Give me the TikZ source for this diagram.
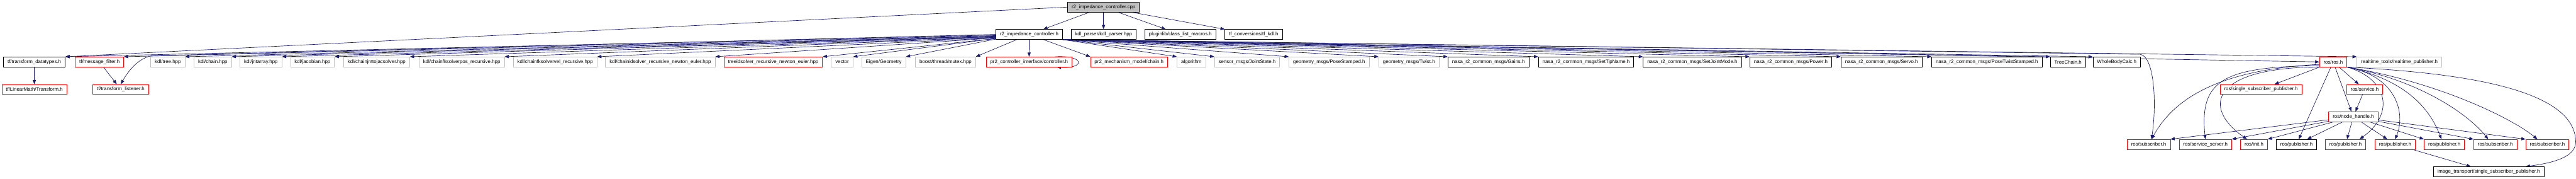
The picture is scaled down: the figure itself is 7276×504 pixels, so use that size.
\documentclass[tikz,border=0pt]{standalone}
\usepackage{fontspec}
\setmainfont{Liberation Sans}
\usetikzlibrary{arrows.meta,backgrounds}
\definecolor{edgeblue}{RGB}{25,25,112}
\definecolor{boxred}{RGB}{255,0,0}
\definecolor{boxgray}{RGB}{191,191,191}
\begin{document}
\begin{tikzpicture}[x=1pt,y=-1pt,
  box/.style={rectangle, line width=1.2pt, minimum height=28pt, inner xsep=11.5pt, inner ysep=0pt, fill=white, font=\fontsize{14}{16}\selectfont, text=black},
  blackbox/.style={box, draw=black},
  redbox/.style={box, draw=boxred},
  graybox/.style={box, draw=boxgray},
  rootbox/.style={box, draw=black, fill=boxgray},
  edge/.style={draw=edgeblue, line width=1.2pt, -{Triangle[length=12pt,width=9pt]}}
]
\useasboundingbox (0,0) rectangle (7276,504);

% row 0 and 1
\node[rootbox]  (cpp)       at (3117,20)  {r2\_impedance\_controller.cpp};
\node[blackbox] (r2h)       at (2907,97)  {r2\_impedance\_controller.h};
\node[blackbox] (kdlparser) at (3117,97)  {kdl\_parser/kdl\_parser.hpp};
\node[blackbox] (pluginlib) at (3334,97)  {pluginlib/class\_list\_macros.h};
\node[blackbox] (tfkdl)     at (3541,97)  {tf\_conversions/tf\_kdl.h};

% row 2
\node[blackbox] (tfdt)       at (97,174.5)   {tf/transform\_datatypes.h};
\node[redbox]   (msgfilter)  at (281,174.5)  {tf/message\_filter.h};
\node[graybox]  (kdltree)    at (474,174.5)  {kdl/tree.hpp};
\node[graybox]  (kdlchain)   at (601,174.5)  {kdl/chain.hpp};
\node[graybox]  (jntarray)   at (737,174.5)  {kdl/jntarray.hpp};
\node[graybox]  (jacobian)   at (882.5,174.5){kdl/jacobian.hpp};
\node[graybox]  (jnttojac)   at (1063.7,174.5){kdl/chainjnttojacsolver.hpp};
\node[graybox]  (fkpos)      at (1304,174.5) {kdl/chainfksolverpos\_recursive.hpp};
\node[graybox]  (fkvel)      at (1568,174.5) {kdl/chainfksolvervel\_recursive.hpp};
\node[graybox]  (idsolver)   at (1865,174.5) {kdl/chainidsolver\_recursive\_newton\_euler.hpp};
\node[redbox]   (treeid)     at (2184,174.5) {treeidsolver\_recursive\_newton\_euler.hpp};
\node[graybox]  (vector)     at (2378.5,174.5){vector};
\node[graybox]  (eigen)      at (2496,174.5) {Eigen/Geometry};
\node[graybox]  (mutex)      at (2670.6,174.5){boost/thread/mutex.hpp};
\node[redbox]   (controller) at (2906.7,174.5){pr2\_controller\_interface/controller.h};
\node[redbox]   (mchain)     at (3189,174.5) {pr2\_mechanism\_model/chain.h};
\node[graybox]  (algorithm)  at (3365,174.5) {algorithm};
\node[graybox]  (jointstate) at (3522.5,174.5){sensor\_msgs/JointState.h};
\node[graybox]  (posestamped) at (3754,174.5){geometry\_msgs/PoseStamped.h};
\node[graybox]  (twist)      at (3979.5,174.5){geometry\_msgs/Twist.h};
\node[blackbox] (gains)      at (4204,174.5) {nasa\_r2\_common\_msgs/Gains.h};
\node[blackbox] (settip)     at (4480,174.5) {nasa\_r2\_common\_msgs/SetTipName.h};
\node[blackbox] (setjoint)   at (4780,174.5) {nasa\_r2\_common\_msgs/SetJointMode.h};
\node[blackbox] (power)      at (5058,174.5) {nasa\_r2\_common\_msgs/Power.h};
\node[blackbox] (servo)      at (5314.5,174.5){nasa\_r2\_common\_msgs/Servo.h};
\node[blackbox] (ptstamped)  at (5612,174.5) {nasa\_r2\_common\_msgs/PoseTwistStamped.h};
\node[blackbox] (treechain)  at (5841,174.5) {TreeChain.h};
\node[blackbox] (wbc)        at (5978.6,174.5){WholeBodyCalc.h};
\node[redbox]   (rosh)       at (6590,174.5) {ros/ros.h};
\node[graybox]  (rtpub)      at (6777,174.5) {realtime\_tools/realtime\_publisher.h};

% row 3
\node[redbox] (transform) at (97,252)   {tf/LinearMath/Transform.h};
\node[redbox] (listener)  at (341,252)  {tf/transform\_listener.h};
\node[redbox] (sspub)     at (6386,252) {ros/single\_subscriber\_publisher.h};
\node[redbox] (service)   at (6679,252) {ros/service.h};

% row 4
\node[redbox] (nodehandle) at (6647,329) {ros/node\_handle.h};

% row 5
\node[redbox]   (sub1)    at (6069,407)   {ros/subscriber.h};
\node[redbox]   (servsrv) at (6229,407)   {ros/service\_server.h};
\node[redbox]   (init)    at (6366.5,407) {ros/init.h};
\node[blackbox] (pub1)    at (6486.4,407) {ros/publisher.h};
\node[redbox]   (pub2)    at (6625,407)   {ros/publisher.h};
\node[redbox]   (pub3)    at (6765,407)   {ros/publisher.h};
\node[redbox]   (pub4)    at (6904,407)   {ros/publisher.h};
\node[redbox]   (sub2)    at (7048,407)   {ros/subscriber.h};
\node[redbox]   (sub3)    at (7195,407)   {ros/subscriber.h};

% row 6
\node[blackbox] (imgtr) at (7029,484) {image\_transport/single\_subscriber\_publisher.h};

% bend points
\coordinate (lbend) at (430,157);
\coordinate (sbend) at (6045,153);
\coordinate (imgbend) at (7275,400);

\begin{pgfonlayer}{background}
% edges from the cpp file
\draw[edge] (cpp) -- (r2h);
\draw[edge] (cpp) -- (kdlparser);
\draw[edge] (cpp) -- (pluginlib);
\draw[edge] (cpp) -- (tfkdl.north west);
\draw[edge] (cpp.west) -- (tfdt.north east);

% edges from r2_impedance_controller.h
\foreach \t/\a in {tfdt/181,msgfilter/182,kdltree/183,kdlchain/183.5,jntarray/184,jacobian/184.5,jnttojac/185,fkpos/185.5,fkvel/186,idsolver/186.5,treeid/187,vector/187.5,eigen/188}
  \draw[edge] (r2h.\a) -- (\t.north east);
\draw[edge] (r2h) -- (mutex.north east);
\draw[edge] (r2h) -- (controller);
\draw[edge] (r2h) -- (mchain.north west);
\foreach \t in {algorithm,jointstate,posestamped,twist,gains,settip,setjoint,power,servo,ptstamped,treechain,wbc,rtpub}
  \draw[edge] (r2h.south east) -- (\t.north west);
\draw[edge] (r2h.south east) -- (rosh.west);
\draw[edge] (r2h.180) -- (lbend) .. controls (395,162) and (365,195) .. (listener.north);
\draw[edge] (r2h.south east) -- (sbend) .. controls (6085,160) and (6092,290) .. ([xshift=8pt]sub1.north);

% tf cluster
\draw[edge] (tfdt) -- (transform);
\draw[edge] (msgfilter) -- (listener);

% self loop
\draw[edge] ([xshift=-48pt]controller.north east) .. controls (3065,155) and (3065,194) .. ([xshift=-44pt]controller.south east);

% ros/ros.h cluster
\draw[edge] (rosh.190) .. controls (6300,195) and (6150,260) .. ([xshift=8pt]sub1.north);
\draw[edge] (rosh.195) .. controls (6280,188) and (6212,225) .. (servsrv.north);
\draw[edge] (rosh.200) .. controls (6250,190) and (6215,300) .. ([xshift=-20pt]init.north);
\draw[edge] (rosh) -- (sspub);
\draw[edge] (rosh) -- (pub1);
\draw[edge] (rosh) -- (nodehandle);
\draw[edge] (rosh) -- (service);
\draw[edge] (rosh.south east) .. controls (6745,222) and (6765,320) .. ([xshift=-18pt]pub2.north east);
\draw[edge] (rosh.south east) .. controls (6770,215) and (6795,320) .. (pub3.north);
\draw[edge] (rosh.south east) .. controls (6790,225) and (6860,300) .. ([xshift=-8pt]pub4.north);
\draw[edge] (rosh.south east) .. controls (6830,225) and (6970,320) .. ([xshift=-20pt]sub2.north);
\draw[edge] (rosh.south east) .. controls (6880,230) and (7090,330) .. ([xshift=-28pt]sub3.north);
\draw[edge] (rosh.south east) .. controls (6950,205) and (7275,250) .. (imgbend)
            .. controls (7275,440) and (7220,458) .. ([xshift=-52pt]imgtr.north east);
\draw[edge] (service) -- (nodehandle);

% node_handle cluster
\draw[edge] (nodehandle) -- (sub1.north east);
\draw[edge] (nodehandle) -- (servsrv.north east);
\draw[edge] (nodehandle) -- (init.north east);
\draw[edge] (nodehandle) -- (pub1);
\draw[edge] (nodehandle) -- (pub2);
\draw[edge] (nodehandle) -- (pub3);
\draw[edge] (nodehandle) -- (pub4.north west);
\draw[edge] (nodehandle) -- (sub2.north west);
\draw[edge] (nodehandle) -- (sub3.north west);
\draw[edge] (pub3) -- (imgtr);
\end{pgfonlayer}
\end{tikzpicture}
\end{document}
